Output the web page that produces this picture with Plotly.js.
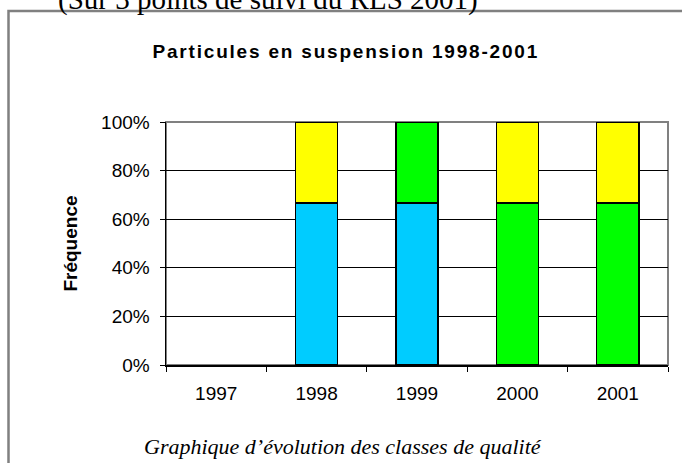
<!DOCTYPE html>
<html>
<head>
<meta charset="utf-8">
<script src="https://cdn.plot.ly/plotly-3.0.1.min.js"></script>
<style>
html,body{margin:0;padding:0;background:#fff;}
#chart{width:682px;height:463px;}
.gtitle{letter-spacing:1.8px;}
</style>
</head>
<body>
<div id="chart"></div>
<script>
const years = ['1997', '1998', '1999', '2000', '2001'];
const seriesBlue = [null, 0.667, 0.667, null, null];
const seriesGreen = [null, null, 0.333, 0.667, 0.667];
const seriesYellow = [null, 0.333, null, 0.333, 0.333];
const yTickVals = [0, 0.2, 0.4, 0.6, 0.8, 1.0];
const yTickText = ['0%', '20%', '40%', '60%', '80%', '100%'];
const titleText = 'Particules en suspension 1998-2001';
const yTitleText = 'Fréquence';
const captionText = 'Graphique d’évolution des classes de qualité';
const topText = '(Sur 3 points de suivi du RLS 2001)';

const barLine = {color: '#000000', width: 1.5};
const traces = [
  {type: 'bar', x: years, y: seriesBlue, marker: {color: '#00CCFF', line: barLine}, name: 'bleu'},
  {type: 'bar', x: years, y: seriesGreen, marker: {color: '#00FF00', line: barLine}, name: 'vert'},
  {type: 'bar', x: years, y: seriesYellow, marker: {color: '#FFFF00', line: barLine}, name: 'jaune'}
];

const layout = {
  width: 682, height: 463,
  margin: {l: 166, r: 14, t: 122, b: 98},
  paper_bgcolor: '#ffffff', plot_bgcolor: '#ffffff',
  barmode: 'stack', bargap: 0.58, showlegend: false,
  font: {family: 'Liberation Sans, Arial, sans-serif', size: 19, color: '#000000'},
  title: {text: '<b>' + titleText + '</b>', font: {size: 19, family: 'Liberation Sans, Arial, sans-serif', color: '#000'},
          xref: 'container', x: 0.507, xanchor: 'center', yref: 'container', y: 1 - 51/463, yanchor: 'middle'},
  xaxis: {type: 'category', categoryorder: 'array', categoryarray: years,
          showline: true, linecolor: '#000', linewidth: 1.5,
          ticks: 'outside', tickson: 'boundaries', ticklen: 5, tickcolor: '#000', tickwidth: 1,
          ticklabelstandoff: 11,
          showgrid: false, zeroline: false, fixedrange: true,
          tickfont: {size: 19}},
  yaxis: {range: [0, 1], tickvals: yTickVals, ticktext: yTickText,
          showline: true, linecolor: '#000', linewidth: 1.5,
          ticks: 'outside', ticklen: 5, tickcolor: '#000', tickwidth: 1,
          ticklabelstandoff: 6,
          showgrid: true, gridcolor: '#000', gridwidth: 1, zeroline: false,
          tickfont: {size: 19},
          title: {text: '<b>' + yTitleText + '</b>', font: {size: 19}, standoff: 18}},
  shapes: [
    {type: 'rect', xref: 'paper', yref: 'paper', x0: 0, x1: 1, y0: 0, y1: 1,
     line: {color: '#808080', width: 2}, layer: 'below'},
    {type: 'rect', xref: 'paper', yref: 'paper', x0: (8.5-166)/502, x1: (700-166)/502,
     y0: -1.0, y1: 1 + (122-11)/243, line: {color: '#808080', width: 2.5}}
  ],
  annotations: [
    {text: captionText, xref: 'paper', yref: 'paper', x: (343-166)/502, y: 1 - (446-122)/243,
     xanchor: 'center', yanchor: 'middle', showarrow: false,
     font: {family: 'Liberation Serif, Times New Roman, serif', size: 22, style: 'italic', color: '#000'}},
    {text: topText, xref: 'paper', yref: 'paper', x: (56-166)/502, y: 1 + (122+1)/243,
     xanchor: 'left', yanchor: 'middle', showarrow: false,
     font: {family: 'Liberation Serif, Times New Roman, serif', size: 29, color: '#000'}}
  ]
};

Plotly.newPlot('chart', traces, layout, {displayModeBar: false, staticPlot: true});
</script>
</body>
</html>
